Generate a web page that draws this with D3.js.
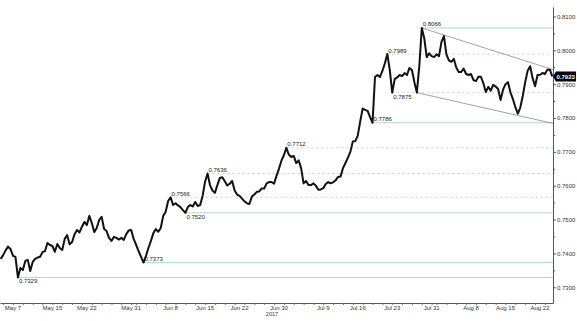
<!DOCTYPE html>
<head>
<meta charset="utf-8">
<style>
  body { margin: 0; background: #fff; }
  text { font-family: "Liberation Sans", Arial, sans-serif; }
</style>
</head>
<body>
<div id="chart"></div>
<script src="https://d3js.org/d3.v7.min.js"></script>
<script>

// 12-hourly closes, first one at seriesStart
var seriesStart = "2017-05-04T12:00";
var stepHours = 12;
var closes = [
  0.7384,0.7395,0.7409,0.7420,0.7413,0.7393,0.7390,0.7329,0.7357,0.7351,
  0.7378,0.7381,0.7348,0.7375,0.7384,0.7388,0.7390,0.7404,0.7407,0.7431,
  0.7425,0.7422,0.7405,0.7428,0.7416,0.7410,0.7443,0.7454,0.7427,0.7434,
  0.7457,0.7469,0.7462,0.7479,0.7493,0.7484,0.7511,0.7490,0.7463,0.7475,
  0.7499,0.7508,0.7472,0.7466,0.7446,0.7437,0.7449,0.7446,0.7441,0.7446,
  0.7440,0.7457,0.7468,0.7469,0.7443,0.7425,0.7407,0.7390,0.7373,0.7393,
  0.7416,0.7437,0.7460,0.7472,0.7464,0.7475,0.7511,0.7523,0.7555,0.7566,
  0.7543,0.7548,0.7542,0.7537,0.7528,0.7520,0.7537,0.7543,0.7539,0.7552,
  0.7540,0.7543,0.7570,0.7612,0.7636,0.7602,0.7586,0.7579,0.7602,0.7623,
  0.7625,0.7613,0.7601,0.7606,0.7614,0.7586,0.7574,0.7570,0.7562,0.7554,
  0.7548,0.7546,0.7568,0.7574,0.7582,0.7583,0.7592,0.7592,0.7607,0.7611,
  0.7611,0.7606,0.7629,0.7650,0.7674,0.7690,0.7712,0.7692,0.7685,0.7688,
  0.7667,0.7675,0.7652,0.7607,0.7614,0.7602,0.7602,0.7607,0.7600,0.7588,
  0.7589,0.7593,0.7605,0.7611,0.7607,0.7610,0.7616,0.7626,0.7627,0.7652,
  0.7667,0.7683,0.7700,0.7731,0.7732,0.7748,0.7790,0.7828,0.7824,0.7821,
  0.7803,0.7786,0.7921,0.7927,0.7921,0.7939,0.7961,0.7989,0.7942,0.7875,
  0.7915,0.7920,0.7927,0.7924,0.7933,0.7927,0.7948,0.7942,0.7906,0.7875,
  0.7954,0.8066,0.8036,0.7980,0.7991,0.7983,0.7980,0.7988,0.7983,0.8025,
  0.8042,0.7988,0.7970,0.7966,0.7975,0.7949,0.7936,0.7936,0.7946,0.7930,
  0.7927,0.7930,0.7912,0.7909,0.7922,0.7922,0.7903,0.7877,0.7892,0.7881,
  0.7898,0.7893,0.7886,0.7853,0.7884,0.7900,0.7906,0.7876,0.7856,0.7832,
  0.7813,0.7831,0.7865,0.7906,0.7940,0.7953,0.7918,0.7894,0.7927,0.7928,
  0.7933,0.7930,0.7943,0.7943,0.7923
];

// marked highs / lows
var levels      = [0.7329, 0.7373, 0.7520, 0.7566, 0.7636, 0.7712, 0.7786, 0.7875, 0.7989, 0.8066];
var solidLevels = [0.7329, 0.7373, 0.7520, 0.7786, 0.8066];
var labelBelow  = [0.7329, 0.7520, 0.7875];

// falling channel
var upperChannel = [["2017-07-29T00:00", 0.8066], ["2017-08-24T15:24", 0.7943]];
var lowerChannel = [["2017-07-28T00:00", 0.7875], ["2017-08-24T15:24", 0.7784]];

var xDomain = ["2017-05-04T08:40", "2017-08-24T15:24"];
var xTicks = ["2017-05-07","2017-05-15","2017-05-22","2017-05-31","2017-06-08",
              "2017-06-15","2017-06-22","2017-06-30","2017-07-09","2017-07-16",
              "2017-07-23","2017-07-31","2017-08-08","2017-08-15","2017-08-22"];
var yTicks = [0.7300, 0.7400, 0.7500, 0.7600, 0.7700, 0.7800, 0.7900, 0.8000, 0.8100];
var yMinor = [0.7350, 0.7450, 0.7550, 0.7650, 0.7750, 0.7850, 0.7950, 0.8050];
var yDomain = [0.72536, 0.8128];
var yearLabel = "2017";

var W = 577, H = 321;
var plotRight = 553, plotTop = 7, plotBottom = 303;
var teal = "#a9dccb";

var parseT = d3.timeParse("%Y-%m-%dT%H:%M");
var parseD = d3.timeParse("%Y-%m-%d");
var t0 = parseT(seriesStart);
var data = closes.map(function (v, i) {
  return { date: d3.timeHour.offset(t0, i * stepHours), value: v };
});

var svg = d3.select("#chart").append("svg")
  .attr("width", W).attr("height", H);

var x = d3.scaleTime()
  .domain(xDomain.map(parseT))
  .range([0, plotRight]);
var y = d3.scaleLinear()
  .domain(yDomain)
  .range([plotBottom, plotTop]);

// level lines + labels
levels.forEach(function (lv) {
  var d = data.find(function (p) { return p.value === lv; });
  var solid = solidLevels.indexOf(lv) >= 0;
  var below = labelBelow.indexOf(lv) >= 0;
  svg.append("line")
    .attr("x1", x(d.date)).attr("x2", plotRight)
    .attr("y1", y(lv)).attr("y2", y(lv))
    .attr("stroke", teal)
    .attr("stroke-width", 1)
    .attr("stroke-dasharray", solid ? null : "2,3");
  svg.append("text")
    .attr("x", x(d.date) + 1)
    .attr("y", y(lv) + (below ? 6 : -1.5))
    .attr("font-size", 6)
    .attr("fill", "#222")
    .text(d3.format(".4f")(lv));
});

// channel
[upperChannel, lowerChannel].forEach(function (c) {
  svg.append("line")
    .attr("x1", x(parseT(c[0][0]))).attr("y1", y(c[0][1]))
    .attr("x2", x(parseT(c[1][0]))).attr("y2", y(c[1][1]))
    .attr("stroke", "#8a8a8a")
    .attr("stroke-width", 0.8);
});

// price line
svg.append("path")
  .datum(data)
  .attr("fill", "none")
  .attr("stroke", "#111")
  .attr("stroke-width", 2)
  .attr("stroke-linejoin", "round")
  .attr("d", d3.line()
    .x(function (d) { return x(d.date); })
    .y(function (d) { return y(d.value); }));

// right axis
var yAxis = svg.append("g")
  .attr("transform", "translate(" + plotRight + ",0)")
  .call(d3.axisRight(y).tickValues(yTicks).tickFormat(d3.format(".4f"))
    .tickSize(3).tickSizeOuter(0));
svg.append("g")
  .attr("transform", "translate(" + plotRight + ",0)")
  .call(d3.axisRight(y).tickValues(yMinor).tickFormat("").tickSize(2).tickSizeOuter(0))
  .select(".domain").remove();
svg.selectAll("g .domain").attr("stroke", "#555");
svg.selectAll("g .tick line").attr("stroke", "#555");
yAxis.selectAll("text")
  .attr("font-size", 6)
  .attr("fill", "#333")
  .attr("x", 4);

// bottom axis
var xAxis = svg.append("g")
  .attr("transform", "translate(0," + plotBottom + ")")
  .call(d3.axisBottom(x).ticks(d3.timeDay.every(2)).tickFormat("")
    .tickSize(2).tickSizeOuter(0));
xAxis.select(".domain").attr("stroke", "#555");
xAxis.selectAll(".tick line").attr("stroke", "#777");

svg.append("g")
  .selectAll("text")
  .data(xTicks.map(parseD))
  .enter()
  .append("text")
    .attr("x", function (d) { return x(d); })
    .attr("y", plotBottom + 6.5)
    .attr("text-anchor", "middle")
    .attr("font-size", 6)
    .attr("fill", "#333")
    .text(d3.timeFormat("%b %-d"));

svg.append("text")
  .attr("x", x(parseD("2017-06-30")) - 7)
  .attr("y", plotBottom + 13)
  .attr("text-anchor", "middle")
  .attr("font-size", 5.5)
  .attr("fill", "#333")
  .text(yearLabel);

// last price tag
var last = data[data.length - 1];
var ly = y(last.value);
svg.append("path")
  .attr("d", "M" + plotRight + "," + ly + "l3,-5h20v10h-20z")
  .attr("fill", "#000");
svg.append("text")
  .attr("x", plotRight + 3.5)
  .attr("y", ly + 2.2)
  .attr("font-size", 6)
  .attr("font-weight", "bold")
  .attr("fill", "#fff")
  .text(d3.format(".4f")(last.value));

</script>
</body>
